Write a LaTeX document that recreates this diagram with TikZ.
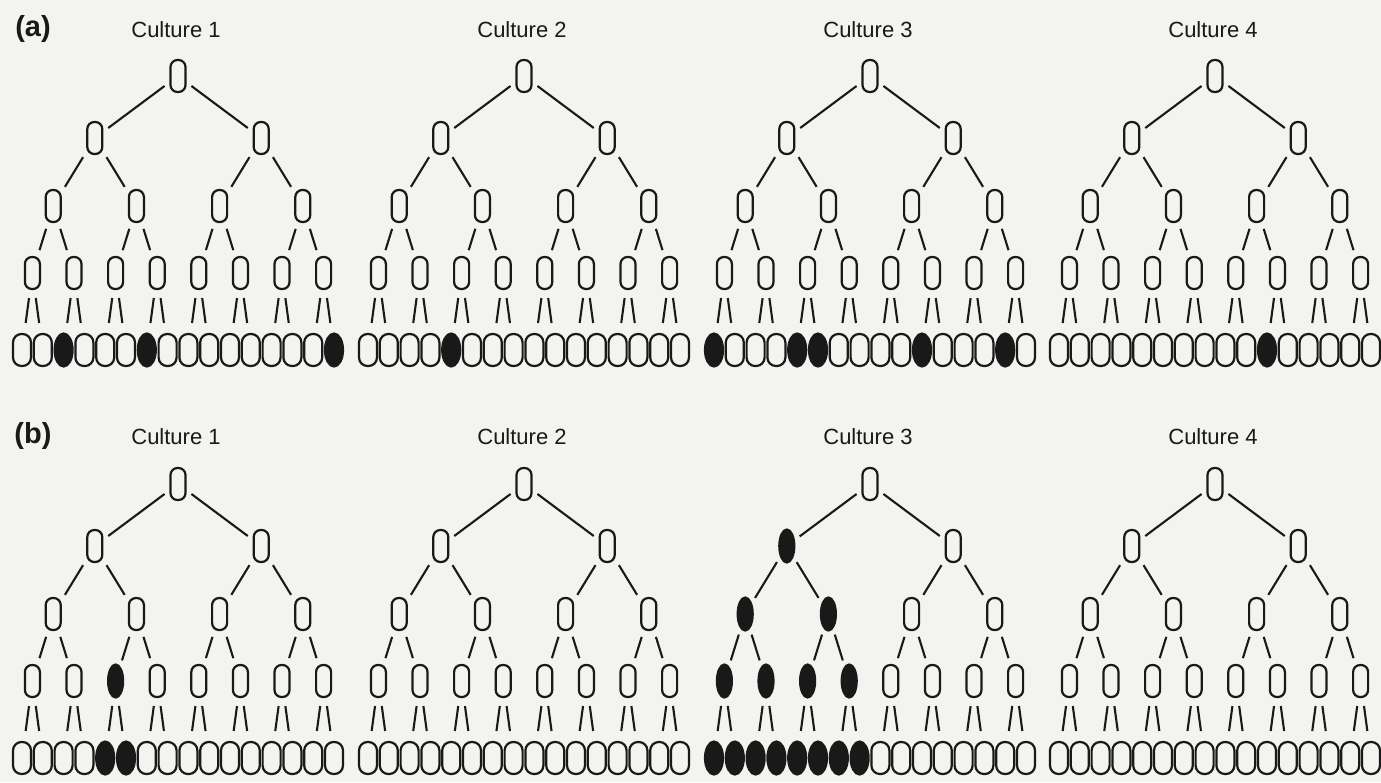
\documentclass[tikz,border=0pt]{standalone}
\usepackage{fontspec}
\setmainfont{Liberation Sans}
\usetikzlibrary{shapes.geometric}
\definecolor{ink}{RGB}{25,25,25}
\definecolor{paper}{RGB}{243,243,239}
\begin{document}
\begin{tikzpicture}[x=1pt,y=-1pt,
  cell/.style={rectangle, rounded corners=7pt, draw=ink, line width=2.2pt, minimum width=15pt, minimum height=32pt, inner sep=0pt},
  lvl1/.style={cell}, lvl2/.style={cell}, lvl3/.style={cell}, lvl4/.style={cell},
  lvl5/.style={cell, minimum width=18pt, rounded corners=8.5pt},
  filled/.style={ellipse, fill=ink, minimum height=33pt},
  conn/.style={draw=ink, line width=2.1pt, shorten <=6pt, shorten >=6pt},
  conn2/.style={conn}, conn3/.style={conn}, conn4/.style={conn},
  conn5/.style={conn, shorten <=8pt, shorten >=10pt},
  heading/.style={font=\fontsize{22}{22}\selectfont, text=ink},
  panel/.style={font=\bfseries\fontsize{29}{29}\selectfont, text=ink},
  % filled cells
  fs/a1-5-3/.style={filled}, fs/a1-5-7/.style={filled}, fs/a1-5-16/.style={filled},
  fs/a2-5-5/.style={filled},
  fs/a3-5-1/.style={filled}, fs/a3-5-5/.style={filled}, fs/a3-5-6/.style={filled},
  fs/a3-5-11/.style={filled}, fs/a3-5-15/.style={filled},
  fs/a4-5-11/.style={filled},
  fs/b1-4-3/.style={filled}, fs/b1-5-5/.style={filled}, fs/b1-5-6/.style={filled},
  fs/b3-2-1/.style={filled},
  fs/b3-3-1/.style={filled}, fs/b3-3-2/.style={filled},
  fs/b3-4-1/.style={filled}, fs/b3-4-2/.style={filled}, fs/b3-4-3/.style={filled}, fs/b3-4-4/.style={filled},
  fs/b3-5-1/.style={filled}, fs/b3-5-2/.style={filled}, fs/b3-5-3/.style={filled}, fs/b3-5-4/.style={filled},
  fs/b3-5-5/.style={filled}, fs/b3-5-6/.style={filled}, fs/b3-5-7/.style={filled}, fs/b3-5-8/.style={filled}
]
\fill[paper] (0,0) rectangle (1381,782);
\useasboundingbox (0,0) rectangle (1381,782);

% panel letters and headings
\node[panel] (pa) at (33,29) {(a)};
\node[panel] (pb) at (33,436) {(b)};
\foreach \rr/\hy in {a/30,b/437}{
  \foreach \cc/\cx in {1/176,2/522,3/868,4/1213}{
    \node[heading] (h\rr\cc) at (\cx,\hy) {Culture \cc};
  }
}

% trees
\foreach \rr/\ry in {a/0,b/408}{
  \foreach \cc/\cx in {1/178,2/524,3/870,4/1215}{
    \node[lvl1, fs/\rr\cc-1-1/.try] (\rr\cc-1-1) at (\cx,76+\ry) {};
    \foreach \lv/\ly/\sp in {2/138/166.4, 3/206/83.2, 4/273/41.6, 5/350/20.8}{
      \pgfmathtruncatemacro\nn{2^(\lv-1)}
      \pgfmathtruncatemacro\pl{\lv-1}
      \foreach \ii in {1,...,\nn}{
        \pgfmathsetmacro\xx{\cx+(\ii-(\nn+1)/2)*\sp}
        \pgfmathtruncatemacro\pidx{(\ii+1)/2}
        \node[lvl\lv, fs/\rr\cc-\lv-\ii/.try] (\rr\cc-\lv-\ii) at (\xx,\ly+\ry) {};
        \draw[conn\lv] (\rr\cc-\pl-\pidx) -- (\rr\cc-\lv-\ii);
      }
    }
  }
}
\end{tikzpicture}
\end{document}
